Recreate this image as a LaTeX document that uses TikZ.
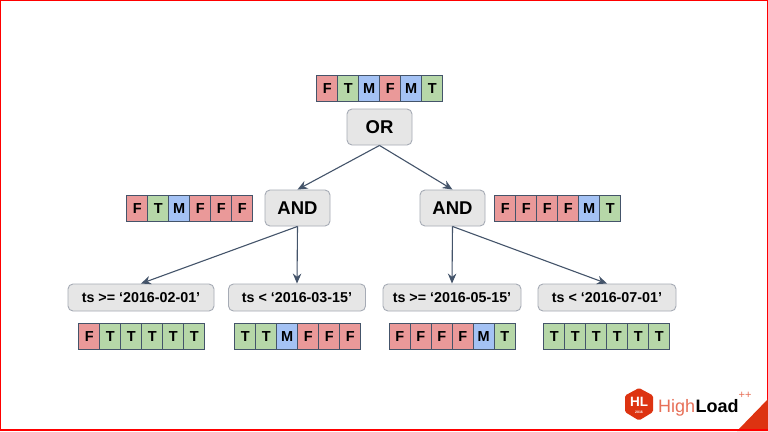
\documentclass[tikz,border=0pt]{standalone}
\usepackage{fontspec}
\setmainfont{Liberation Sans}
\usetikzlibrary{arrows.meta}
\definecolor{cellF}{HTML}{EA9999}
\definecolor{cellT}{HTML}{B6D7A8}
\definecolor{cellM}{HTML}{A4C2F4}
\definecolor{edgeC}{HTML}{44546A}
\definecolor{opFill}{HTML}{E6E6E6}
\definecolor{opLine}{HTML}{A6ABB5}
\definecolor{hlred}{HTML}{DD3311}
\tikzset{
  x=1pt,y=-1pt,
  cellbox/.style={draw=edgeC,line width=1.4pt,minimum width=21pt,minimum height=26pt,inner sep=0pt,anchor=north west,font=\fontsize{14.5}{15}\selectfont\bfseries},
  cF/.style={cellbox,fill=cellF},
  cT/.style={cellbox,fill=cellT},
  cM/.style={cellbox,fill=cellM},
  opbox/.style={draw=opLine,fill=opFill,line width=0.9pt,rounded corners=5pt,minimum width=65pt,minimum height=36pt,inner sep=0pt,font=\fontsize{18.5}{20}\selectfont\bfseries},
  leafbox/.style={draw=opLine,fill=opFill,line width=0.9pt,rounded corners=5pt,minimum height=27pt,inner sep=0pt,font=\fontsize{14.3}{15}\selectfont\bfseries},
  conn/.style={draw=edgeC,line width=1.1pt,-{Stealth[length=10pt,width=8.5pt]}},
}
\newcommand{\cellrow}[8]{%
  \node[c#3] (#1a) at (#2,0+#8) {#3};
  \node[c#4] (#1b) at (#2+21,0+#8) {#4};
  \node[c#5] (#1c) at (#2+42,0+#8) {#5};
  \node[c#6] (#1d) at (#2+63,0+#8) {#6};
  \node[c#7] (#1e) at (#2+84,0+#8) {#7};
}
\newcommand{\lastcell}[4]{\node[c#4] (#1f) at (#2+105,#3) {#4};}
\begin{document}
\begin{tikzpicture}
\useasboundingbox (0,0) rectangle (768,431);
\fill[white] (0,0) rectangle (768,431);
\draw[red,line width=1.4pt] (0.7,0.7) rectangle (767.3,430);

\cellrow{top}{316}{F}{T}{M}{F}{M}{75}\lastcell{top}{316}{75}{T}
\cellrow{ml}{126}{F}{T}{M}{F}{F}{195}\lastcell{ml}{126}{195}{F}
\cellrow{mr}{494}{F}{F}{F}{F}{M}{195}\lastcell{mr}{494}{195}{T}
\cellrow{la}{78}{F}{T}{T}{T}{T}{323}\lastcell{la}{78}{323}{T}
\cellrow{lb}{234}{T}{T}{M}{F}{F}{323}\lastcell{lb}{234}{323}{F}
\cellrow{lc}{388.5}{F}{F}{F}{F}{M}{323}\lastcell{lc}{388.5}{323}{T}
\cellrow{ld}{543}{T}{T}{T}{T}{T}{323}\lastcell{ld}{543}{323}{T}

\node[opbox] (or) at (379.5,127) {OR};
\node[opbox] (andl) at (297.5,208) {AND};
\node[opbox] (andr) at (452.5,208) {AND};
\node[leafbox,minimum width=146pt] (t1) at (141,297.5) {ts >= ‘2016-02-01’};
\node[leafbox,minimum width=137pt] (t2) at (297,297.5) {ts < ‘2016-03-15’};
\node[leafbox,minimum width=138pt] (t3) at (452,297.5) {ts >= ‘2016-05-15’};
\node[leafbox,minimum width=138pt] (t4) at (607,297.5) {ts < ‘2016-07-01’};

\draw[conn] (or.south) -- (andl.north);
\draw[conn] (or.south) -- (andr.north);
\draw[conn] (andl.south) -- (t1.north);
\draw[conn] (andl.south) -- (t2.north);
\draw[conn] (andr.south) -- (t3.north);
\draw[conn] (andr.south) -- (t4.north);

% logo
\fill[hlred] (737,431) -- (768,399) -- (768,431) -- cycle;
\draw[red,line width=1.4pt] (0,430) -- (768,430);
\fill[hlred,rounded corners=1.5pt] (639,388) -- (653,395.5) -- (653,412) -- (639,420.5) -- (625,412) -- (625,395.5) -- cycle;
\node[text=white,inner sep=0pt,font=\fontsize{13.5}{14}\selectfont\bfseries] (hl) at (639,402) {HL};
\node[text=white,inner sep=0pt,font=\fontsize{3.5}{4}\selectfont\bfseries] (yr) at (639,412.5) {2016};
\node[anchor=base west,inner sep=0pt,text=hlred!70,font=\fontsize{18}{20}\selectfont] (hi) at (658,412) {High};
\node[anchor=base west,inner sep=0pt,text=black,font=\fontsize{18}{20}\selectfont\bfseries] (lo) at (hi.base east) {Load};
\node[anchor=base,inner sep=0pt,text=hlred!70,font=\fontsize{11}{11}\selectfont] (pp) at (745,398) {++};
\end{tikzpicture}
\end{document}
